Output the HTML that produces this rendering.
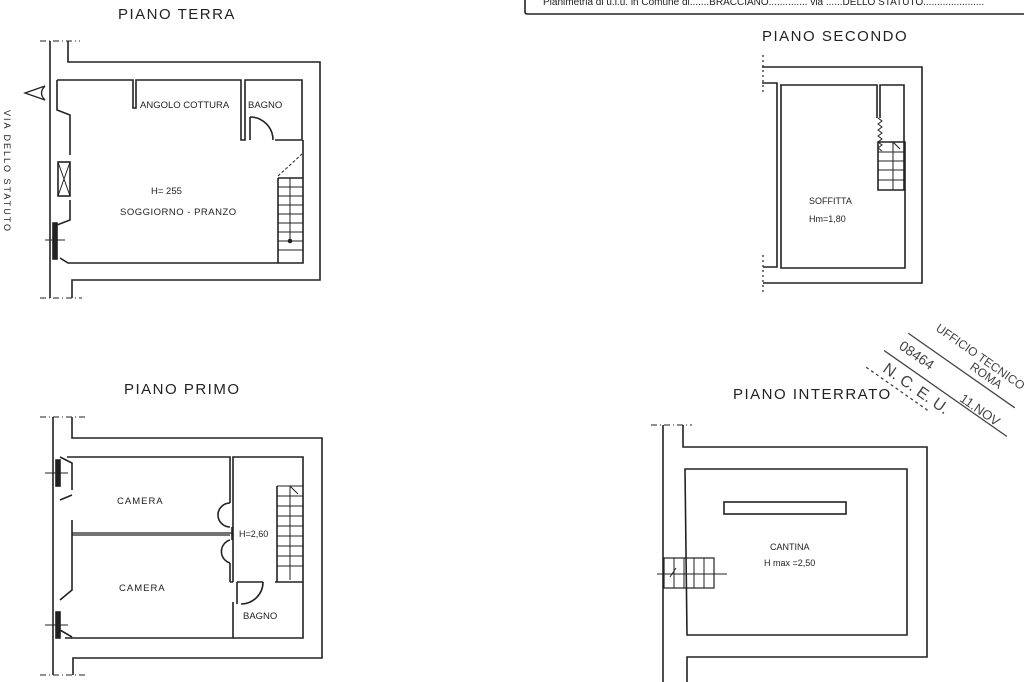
<!DOCTYPE html>
<html><head><meta charset="utf-8"><style>
html,body{margin:0;padding:0;background:#fff;}
svg{display:block;}
text{font-family:"Liberation Sans",sans-serif;fill:#222;}
</style></head><body>
<svg width="1024" height="682" viewBox="0 0 1024 682" xmlns="http://www.w3.org/2000/svg">
<rect width="1024" height="682" fill="#fff"/>
<g stroke="#222" stroke-width="1.6" fill="none">
<path d="M525 0 V12 Q525 14 528 14 H1024"/>
</g>
<text x="543" y="5" font-size="10">Planimetria di u.i.u. in Comune di.......BRACCIANO..............  via  ......DELLO  STATUTO......................</text>

<text x="118" y="19" font-size="15" letter-spacing="1.5">PIANO  TERRA</text>
<text x="762" y="41" font-size="15" letter-spacing="1.5">PIANO  SECONDO</text>
<text x="124" y="394" font-size="15" letter-spacing="1.5">PIANO  PRIMO</text>
<text x="733" y="399" font-size="15" letter-spacing="1.5">PIANO  INTERRATO</text>

<text transform="translate(4,110) rotate(90)" font-size="9" letter-spacing="2">VIA  DELLO  STATUTO</text>
<path d="M25 93 L45 86 Q38 93 45 100 Z" stroke="#222" stroke-width="1.3" fill="none"/>

<g stroke="#222" stroke-width="1.6" fill="none">
<!-- PIANO TERRA -->
<path d="M50 41 V298"/>
<path d="M40 41 H80 M40 298 H82" stroke-dasharray="6 3 1 3" stroke-width="1"/>
<path d="M68 41 V62 H320 V280 H72 V298"/>
<path d="M57 80 H133 V108 H136 V80 H241 V140 H245 V80 H302 V140 H275"/>
<path d="M303 140 V263 H68 L60 258"/>
<path d="M57 80 V110 L70 115 V155 M70 200 V220 L57 225"/>
<rect x="58" y="162" width="12" height="34"/>
<path d="M58 162 L70 196 M70 162 L58 196" stroke-width="1"/>
<rect x="53" y="223" width="4" height="36" fill="#222"/>
<path d="M45 240 H65" stroke-width="1"/>
<path d="M250 117 A23 23 0 0 1 273 140 M250 117 V140"/>
<path d="M278 178 V263 M278 178 H303" />
<path d="M278 187 H303 M278 196 H303 M278 205 H303 M278 214 H303 M278 223 H303 M278 232 H303 M278 241 H303 M278 250 H303 M290 178 V240" stroke-width="1"/>
<path d="M278 176 L302 154" stroke-dasharray="3 2" stroke-width="1"/>
<circle cx="290" cy="241" r="1.5" fill="#222"/>

<!-- PIANO PRIMO -->
<path d="M53 417 V675"/>
<path d="M40 417 H85 M40 675 H85" stroke-dasharray="6 3 1 3" stroke-width="1"/>
<path d="M72 417 V438 H322 V658 H73 V675"/>
<path d="M67 457 H230 V503 M230 563 V582 M230 582 H233 M233 602 V638 M233 582 V457 H303 V638 H65"/>
<path d="M72 533 H232 M72 535 H230" stroke-width="1.2"/>
<path d="M230 503 A12 12 0 0 0 230 527 M230 540 A12 12 0 0 0 230 563 M232 527 V540"/>
<path d="M237 582 H263 M263 582 A22 22 0 0 1 241 604 M237 582 V604 M275 582 H303"/>
<path d="M277 486 V582" />
<path d="M277 486 H303 M277 496 H303 M277 506 H303 M277 516 H303 M277 526 H303 M277 536 H303 M277 546 H303 M277 556 H303 M277 566 H303 M290 486 V580 M290 486 L298 494" stroke-width="1"/>
<path d="M60 457 L72 463 V490 M72 495 L60 500 M60 600 L72 590 V520 M60 630 L72 637"/>
<rect x="56" y="460" width="4" height="26" fill="#222"/>
<rect x="56" y="612" width="4" height="26" fill="#222"/>
<path d="M45 473 H68 M45 625 H68" stroke-width="1"/>

<!-- PIANO SECONDO -->
<path d="M763 55 V92 M763 255 V292" stroke-dasharray="2 3" stroke-width="1.2"/>
<path d="M762 67 H922 V283 H763"/>
<path d="M762 83 H777 V267 H763"/>
<path d="M780 85 H877 V118 M880 118 V85 H904 V190 M880 85 V118 M905 190 V268 H781 V85"/>
<path d="M878 118 l4 3 -4 3 4 3 -4 3 4 3 -4 3 4 3 -4 3 4 3 -4 3 4 3" stroke-width="1"/>
<path d="M878 142 H905 V190 H878 Z"/>
<path d="M878 152 H905 M878 161 H905 M878 170 H905 M878 180 H905 M893 142 V190 M893 142 L900 149" stroke-width="1"/>

<!-- PIANO INTERRATO -->
<path d="M663 425 V682"/>
<path d="M651 425 H692" stroke-dasharray="6 3 1 3" stroke-width="1"/>
<path d="M683 425 V447 H927 V657 H687 V682"/>
<path d="M685 469 H907 V635 H687 Z"/>
<rect x="724" y="502" width="122" height="12"/>
<rect x="664" y="558" width="50" height="30" stroke-width="1.2"/>
<path d="M674 558 V588 M684 558 V588 M694 558 V588 M704 558 V588 M657 574 H727 M670 577 L676 568" stroke-width="1"/>
</g>

<g font-size="9.5">
<text x="140" y="108">ANGOLO COTTURA</text>
<text x="248" y="108">BAGNO</text>
<text x="151" y="194">H= 255</text>
<text x="120" y="215" letter-spacing="0.5">SOGGIORNO  -  PRANZO</text>
<text x="117" y="504" letter-spacing="1">CAMERA</text>
<text x="119" y="591" letter-spacing="1">CAMERA</text>
<text x="239" y="537" font-size="9">H=2,60</text>
<text x="243" y="619">BAGNO</text>
<text x="809" y="204" font-size="9">SOFFITTA</text>
<text x="809" y="222" font-size="9">Hm=1,80</text>
<text x="770" y="550" font-size="9">CANTINA</text>
<text x="764" y="566" font-size="9">H max =2,50</text>
</g>

<g transform="translate(935,330) rotate(35)" fill="none" stroke="#444" stroke-width="1.3">
<text x="0" y="0" font-size="12" style="fill:#444;stroke:none">UFFICIO TECNICO</text>
<text x="50" y="12" font-size="12" style="fill:#444;stroke:none">ROMA</text>
<path d="M-20 18 H110"/>
<text x="-20" y="36" font-size="14" style="fill:#444;stroke:none">08464</text>
<text x="60" y="44" font-size="13" style="fill:#444;stroke:none">11.NOV</text>
<path d="M-30 46 H120"/>
<text x="-20" y="64" font-size="16" style="fill:#444;stroke:none">N. C. E. U.</text>
<path d="M-35 70 H40" stroke-dasharray="3 3"/>
</g>
</svg>
</body></html>
